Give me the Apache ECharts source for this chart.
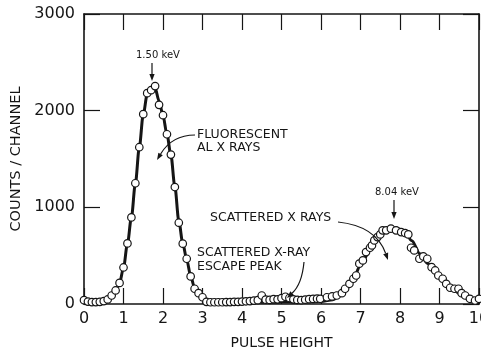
<!DOCTYPE html>
<html>
<head>
<meta charset="utf-8">
<script src="https://cdn.jsdelivr.net/npm/echarts@6/dist/echarts.min.js"></script>
<style>
  html, body { margin: 0; padding: 0; background: #fff; }
  #chart { width: 481px; height: 351px; }
</style>
</head>
<body>
<div id="chart"></div>
<script>
// measured channels (open circles)
const pulseHeight = [
  0.0, 0.1, 0.2, 0.3, 0.4, 0.5, 0.6, 0.7, 0.8, 0.9,
  1.0, 1.1, 1.2, 1.3, 1.4, 1.5, 1.6, 1.7, 1.8, 1.9,
  2.0, 2.1, 2.2, 2.3, 2.4, 2.5, 2.6, 2.7, 2.8, 2.9,
  3.0, 3.1, 3.2, 3.3, 3.4, 3.5, 3.6, 3.7, 3.8, 3.9,
  4.0, 4.1, 4.2, 4.3, 4.4, 4.5, 4.6, 4.7, 4.8, 4.9,
  5.0, 5.1, 5.2, 5.3, 5.4, 5.5, 5.6, 5.7, 5.8, 5.9,
  5.98, 6.15, 6.28, 6.40, 6.53, 6.61, 6.72, 6.82, 6.89, 6.97,
  7.06, 7.14, 7.24, 7.29, 7.35, 7.43, 7.50, 7.56, 7.65, 7.77,
  7.90, 8.03, 8.13, 8.21, 8.28, 8.36, 8.49, 8.59, 8.69, 8.80,
  8.89, 8.97, 9.08, 9.17, 9.27, 9.38, 9.48, 9.56, 9.65, 9.77,
  9.90, 10.0
];
const counts = [
  40, 25, 20, 20, 22, 30, 47, 88, 140, 218,
  378, 627, 896, 1249, 1622, 1964, 2181, 2212, 2254, 2060,
  1953, 1756, 1546, 1210, 841, 624, 468, 285, 158, 112,
  70, 22, 18, 18, 18, 18, 20, 20, 22, 22,
  25, 28, 30, 35, 40, 88, 45, 42, 50, 48,
  60, 75, 62, 48, 42, 40, 45, 50, 52, 55,
  54, 70, 78, 88, 112, 158, 209, 261, 295, 417,
  451, 537, 582, 606, 658, 692, 720, 762, 762, 779,
  762, 744, 734, 720, 582, 554, 468, 492, 468, 381,
  347, 295, 261, 209, 168, 158, 158, 112, 88, 54,
  36, 54
];

// hand-drawn curve through the data
const curveHeight = [
  0.55, 0.7, 0.8, 0.9, 1.0, 1.1, 1.2, 1.3, 1.4, 1.5, 1.6, 1.7, 1.8, 1.9,
  2.0, 2.1, 2.2, 2.3, 2.4, 2.5, 2.6, 2.7, 2.8, 2.9, 3.0, 3.2, 3.6,
  4.0, 4.5, 5.0, 5.5, 6.0, 6.3, 6.5, 6.8, 7.0, 7.3, 7.5, 7.7, 7.9,
  8.1, 8.3, 8.5, 8.7, 8.9, 9.1, 9.3, 9.5, 9.7, 9.9, 10.0
];
const curveCounts = [
  10, 70, 130, 215, 375, 625, 895, 1245, 1620, 1960, 2170, 2225, 2235, 2100,
  1950, 1755, 1540, 1215, 860, 630, 460, 290, 165, 105, 60, 18, 12,
  15, 18, 20, 20, 25, 45, 90, 240, 400, 610, 720, 775, 785,
  760, 655, 520, 420, 330, 245, 170, 110, 60, 20, 10
];

const xTicks = [0, 1, 2, 3, 4, 5, 6, 7, 8, 9, 10];
const yTicks = [0, 1000, 2000, 3000];

const ink = '#151515';
const font = 'DejaVu Sans';

const chart = echarts.init(document.getElementById('chart'), null, { renderer: 'canvas' });

const frameAxis = {
  axisLine: { show: true, onZero: false, lineStyle: { color: ink, width: 1.6 } },
  axisTick: { show: true, inside: true, length: 16, lineStyle: { color: ink, width: 1.2 } },
  splitLine: { show: false }
};

chart.setOption({
  animation: false,
  backgroundColor: '#fff',
  grid: { left: 84, right: 2, top: 14, bottom: 47, containLabel: false, outerBoundsMode: 'none' },
  xAxis: [
    Object.assign({
      type: 'value', position: 'bottom',
      min: xTicks[0], max: xTicks[xTicks.length - 1], interval: 1,
      name: 'PULSE HEIGHT', nameLocation: 'middle', nameGap: 32,
      nameTextStyle: { color: ink, fontFamily: font, fontSize: 14 },
      axisLabel: { color: ink, fontFamily: font, fontSize: 16, margin: 7, hideOverlap: false }
    }, frameAxis),
    Object.assign({
      type: 'value', position: 'top',
      min: xTicks[0], max: xTicks[xTicks.length - 1], interval: 1,
      axisLabel: { show: false }
    }, frameAxis)
  ],
  yAxis: [
    Object.assign({
      type: 'value', position: 'left',
      min: yTicks[0], max: yTicks[yTicks.length - 1], interval: 1000,
      name: 'COUNTS / CHANNEL', nameLocation: 'middle', nameGap: 54,
      nameTextStyle: { color: ink, fontFamily: font, fontSize: 14.5 },
      axisLabel: { color: ink, fontFamily: font, fontSize: 16, margin: 9,
        formatter: v => String(v) }
    }, frameAxis),
    Object.assign({
      type: 'value', position: 'right',
      min: yTicks[0], max: yTicks[yTicks.length - 1], interval: 1000,
      axisLabel: { show: false }
    }, frameAxis)
  ],
  series: [
    {
      type: 'line',
      data: curveHeight.map((x, i) => [x, curveCounts[i]]),
      smooth: 0.3,
      smoothMonotone: 'x',
      showSymbol: false,
      lineStyle: { color: ink, width: 3 },
      z: 2
    },
    {
      type: 'scatter',
      data: pulseHeight.map((x, i) => [x, counts[i]]),
      symbol: 'circle',
      symbolSize: 7.5,
      itemStyle: { color: '#fff', borderColor: ink, borderWidth: 1.2, opacity: 1 },
      z: 3
    }
  ]
});

// annotations
function arrow(x0, y0, cx, cy, x1, y1) {
  const dx = x1 - cx, dy = y1 - cy, len = Math.hypot(dx, dy);
  const ux = dx / len, uy = dy / len;
  const L = 7, W = 2.6;
  const bx = x1 - ux * L, by = y1 - uy * L;
  return [
    { type: 'bezierCurve', z: 10,
      shape: { x1: x0, y1: y0, cpx1: cx, cpy1: cy, x2: bx, y2: by },
      style: { stroke: ink, lineWidth: 1.2, fill: 'none' } },
    { type: 'polygon', z: 10,
      shape: { points: [[x1, y1], [bx - uy * W, by + ux * W], [bx + uy * W, by - ux * W]] },
      style: { fill: ink } }
  ];
}
function label(text, x, y, size) {
  return { type: 'text', z: 10, x: x, y: y,
    style: { text: text, fill: ink, font: (size || 12.5) + 'px "' + font + '"',
      align: 'left', verticalAlign: 'middle' } };
}
function straight(x0, y0, x1, y1) {
  return arrow(x0, y0, (x0 + x1) / 2, (y0 + y1) / 2, x1, y1);
}

chart.setOption({
  graphic: [
    label('1.50 keV', 136, 55, 10),
    ...straight(152, 63, 152, 81),
    label('8.04 keV', 375, 192, 10),
    ...straight(394, 200, 394, 219),
    label('FLUORESCENT', 197, 135),
    label('AL X RAYS', 197, 148),
    ...arrow(195, 135, 172, 135, 157, 160),
    label('SCATTERED X RAYS', 210, 218),
    ...arrow(338, 222, 376, 226, 388, 260),
    label('SCATTERED X-RAY', 197, 253),
    label('ESCAPE PEAK', 197, 267),
    ...arrow(304, 262, 302, 284, 287, 298)
  ]
});
</script>
</body>
</html>
